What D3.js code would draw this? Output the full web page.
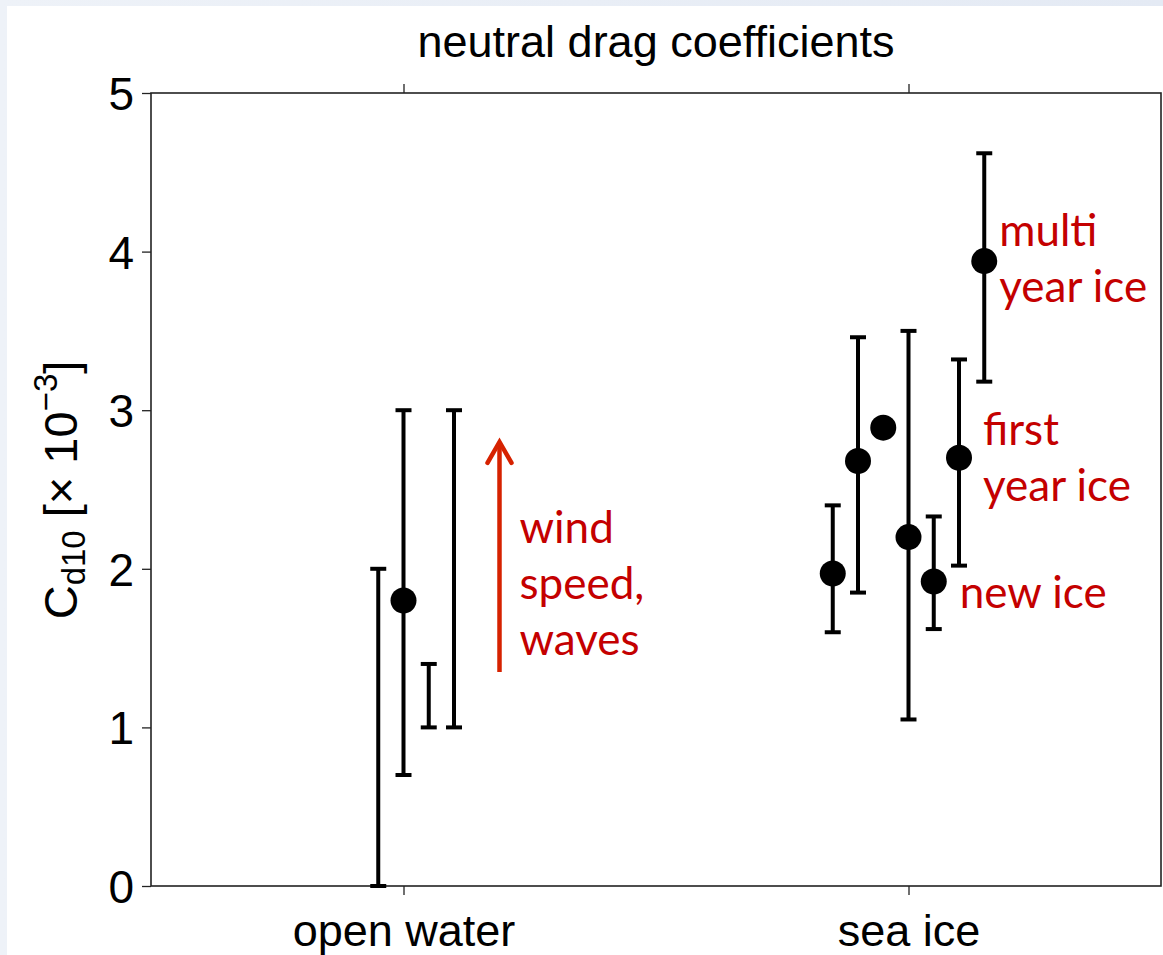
<!DOCTYPE html>
<html lang="en">
<head>
<meta charset="UTF-8">
<title>neutral drag coefficients</title>
<script src="https://d3js.org/d3.v7.min.js"></script>
<style>
	body {
		margin: 0;
		background: linear-gradient(90deg, #eef2f8, #e4eaf4);
	}
	svg { display: block; }
	.axis text { font-family: "Liberation Sans", Arial, sans-serif; fill: #000; }
	.note { font-family: Lato, "Open Sans", sans-serif; font-size: 44px; fill: #c40000; }
</style>
</head>
<body>
<script>
// categories and the offset of every error bar inside its category
var groups = ["open water", "sea ice"];

var owOffset = [-1, 0, 1, 2];
var owLow    = [0.00, 0.70, 1.00, 1.00];
var owHigh   = [2.00, 3.00, 1.40, 3.00];
var owMid    = [null, 1.80, null, null];

var siOffset = [-3, -2, -1, 0, 1, 2, 3];
var siLow    = [1.60, 1.85, null, 1.05, 1.62, 2.02, 3.18];
var siHigh   = [2.40, 3.46, null, 3.50, 2.33, 3.32, 4.62];
var siMid    = [1.97, 2.68, 2.89, 2.20, 1.92, 2.70, 3.94];

var yTicks = [0, 1, 2, 3, 4, 5];

// build rows from the arrays
var rows = [];
owOffset.forEach(function (o, i) {
	rows.push({g: 1, off: o, lo: owLow[i], hi: owHigh[i], mid: owMid[i]});
});
siOffset.forEach(function (o, i) {
	rows.push({g: 2, off: o, lo: siLow[i], hi: siHigh[i], mid: siMid[i]});
});

var W = 1163, H = 955;
var margin = {top: 93, right: 2, bottom: 69, left: 151};
var width = W - margin.left - margin.right,
	height = H - margin.top - margin.bottom;

var svg = d3.select("body").append("svg")
	.attr("width", W)
	.attr("height", H);

// white panel
svg.append("rect")
	.attr("x", 7).attr("y", 6)
	.attr("width", W - 7).attr("height", H - 6)
	.attr("fill", "#fff");

var g = svg.append("g")
	.attr("transform", "translate(" + margin.left + "," + margin.top + ")");

var x = d3.scaleLinear().domain([0.5, 2.5]).range([0, width]);
var y = d3.scaleLinear().domain([0, 5]).range([height, 0]);
var step = 0.05;
function px(d) { return x(d.g + d.off * step); }

// axes
var xAxis = g.append("g").attr("class", "axis")
	.attr("transform", "translate(0," + height + ")")
	.call(d3.axisBottom(x).tickValues([1, 2]).tickSize(9).tickPadding(19)
		.tickFormat(function (d) { return groups[d - 1]; }));
xAxis.selectAll("text").style("font-size", "45px");

g.append("g").attr("class", "axis")
	.call(d3.axisTop(x).tickValues([1, 2]).tickSize(9).tickFormat(""));

var yAxis = g.append("g").attr("class", "axis")
	.call(d3.axisLeft(y).tickValues(yTicks).tickSize(9).tickPadding(8)
		.tickFormat(d3.format("d")));
yAxis.selectAll("text").style("font-size", "46px").attr("dy", "0.36em");

g.selectAll(".axis path").remove();
g.selectAll(".axis line").attr("stroke", "#222").attr("stroke-width", 1.3);

// box
g.append("rect")
	.attr("width", width).attr("height", height)
	.attr("fill", "none")
	.attr("stroke", "#222")
	.attr("stroke-width", 1.6);

// title
svg.append("text")
	.attr("x", margin.left + width / 2).attr("y", 57)
	.attr("text-anchor", "middle")
	.style("font-family", "'Liberation Sans', Arial, sans-serif")
	.style("font-size", "45px")
	.text("neutral drag coefficients");

// y label
var yl = svg.append("text")
	.attr("transform", "translate(77,490) rotate(-90)")
	.attr("text-anchor", "middle")
	.style("font-family", "'Liberation Sans', Arial, sans-serif")
	.style("font-size", "47px");
yl.append("tspan").text("C");
yl.append("tspan").attr("dy", 8).style("font-size", "33px").text("d10");
yl.append("tspan").attr("dy", -8).text(" [\u00d7 10");
yl.append("tspan").attr("dy", -20).style("font-size", "33px").text("\u22123");
yl.append("tspan").attr("dy", 20).text("]");

// error bars
var bars = rows.filter(function (d) { return d.lo !== null; });
var cap = 8;
g.selectAll(".eb").data(bars).enter().append("line")
	.attr("x1", px).attr("x2", px)
	.attr("y1", function (d) { return y(d.lo); })
	.attr("y2", function (d) { return y(d.hi); })
	.attr("stroke", "#000").attr("stroke-width", 4);
g.selectAll(".capHi").data(bars).enter().append("line")
	.attr("x1", function (d) { return px(d) - cap; })
	.attr("x2", function (d) { return px(d) + cap; })
	.attr("y1", function (d) { return y(d.hi); })
	.attr("y2", function (d) { return y(d.hi); })
	.attr("stroke", "#000").attr("stroke-width", 4);
g.selectAll(".capLo").data(bars).enter().append("line")
	.attr("x1", function (d) { return px(d) - cap; })
	.attr("x2", function (d) { return px(d) + cap; })
	.attr("y1", function (d) { return y(d.lo); })
	.attr("y2", function (d) { return y(d.lo); })
	.attr("stroke", "#000").attr("stroke-width", 4);

// points
g.selectAll(".pt").data(rows.filter(function (d) { return d.mid !== null; }))
	.enter().append("circle")
	.attr("cx", px)
	.attr("cy", function (d) { return y(d.mid); })
	.attr("r", 13)
	.attr("fill", "#000");

// arrow: wind speed, waves
var ax = x(1) + 96;
var ay1 = y(1.35), ay2 = y(2.80);
g.append("line")
	.attr("x1", ax).attr("x2", ax)
	.attr("y1", ay1).attr("y2", ay2 + 2)
	.attr("stroke", "#d62200").attr("stroke-width", 4.5);
g.append("path")
	.attr("d", "M" + (ax - 12) + "," + (ay2 + 21) + "L" + ax + "," + ay2 + "L" + (ax + 12) + "," + (ay2 + 21))
	.attr("fill", "none")
	.attr("stroke", "#d62200").attr("stroke-width", 4.5)
	.attr("stroke-linecap", "round");

function note(lines, x0, y0) {
	var t = g.append("text").attr("class", "note");
	lines.forEach(function (s, i) {
		t.append("tspan").attr("x", x0).attr("y", y0 + i * 56).text(s);
	});
}
note(["wind", "speed,", "waves"], ax + 20, 543 - margin.top);
note(["multi", "year ice"], x(2 + 3 * step) + 15, 246 - margin.top);
note(["first", "year ice"], x(2 + 2 * step) + 24, 445 - margin.top);
note(["new ice"], x(2 + step) + 26, 608 - margin.top);
</script>
</body>
</html>
